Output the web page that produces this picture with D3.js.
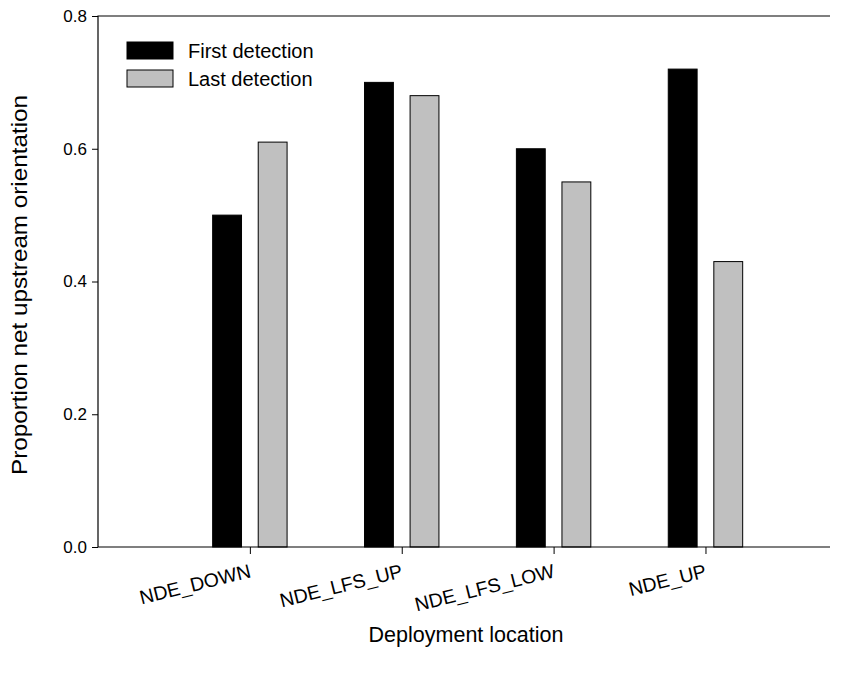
<!DOCTYPE html>
<html>
<head>
<meta charset="utf-8">
<script src="https://cdn.jsdelivr.net/npm/d3@7"></script>
<style>
body { margin: 0; background: #fff; }
text { font-family: Arial, "Liberation Sans", sans-serif; fill: #000; }
</style>
</head>
<body>
<svg id="chart" width="846" height="675"></svg>
<script>
// data
var locations = ["NDE_DOWN", "NDE_LFS_UP", "NDE_LFS_LOW", "NDE_UP"];
var firstDetection = [0.50, 0.70, 0.60, 0.72];
var lastDetection = [0.61, 0.68, 0.55, 0.43];
var seriesNames = ["First detection", "Last detection"];
var seriesColors = ["#000000", "#c0c0c0"];
var yTicks = [0, 0.2, 0.4, 0.6, 0.8];

var svg = d3.select("#chart");
var plotLeft = 98, plotRight = 830, plotTop = 16, plotBottom = 547;

// categories sit at 1..4 on a linear axis
var xScale = d3.scaleLinear().domain([0, 4.82]).range([plotLeft, plotRight]);
var yScale = d3.scaleLinear().domain([0, 0.8]).range([plotBottom, plotTop]);

var barW = xScale(0.19) - xScale(0);
var offset = xScale(0.15) - xScale(0);

var series = [firstDetection, lastDetection];

series.forEach(function(values, s)
{
    svg.append("g").selectAll("rect").data(values).enter().append("rect")
        .attr("x", function(d, i){ return xScale(i + 1) + (s == 0 ? -offset : offset) - barW / 2; })
        .attr("y", function(d){ return yScale(d); })
        .attr("width", barW)
        .attr("height", function(d){ return yScale(0) - yScale(d); })
        .attr("fill", seriesColors[s])
        .attr("stroke", "#000")
        .attr("stroke-width", 1);
});

// y axis
var yAxis = d3.axisLeft(yScale).tickValues(yTicks).tickFormat(d3.format(".1f")).tickSize(6).tickPadding(5);
var gy = svg.append("g").attr("transform", "translate(" + plotLeft + ",0)").call(yAxis);
gy.select(".domain").remove();
gy.selectAll("text").style("font-size", "17px").style("font-family", "Arial, 'Liberation Sans', sans-serif");

// x axis
var xAxis = d3.axisBottom(xScale).tickValues([1, 2, 3, 4]).tickFormat("").tickSize(7);
var gx = svg.append("g").attr("transform", "translate(0," + plotBottom + ")").call(xAxis);
gx.select(".domain").remove();

svg.selectAll(".tick line").attr("stroke", "#000");

// frame: left, top, bottom (no right side)
svg.append("path")
    .attr("d", "M" + plotRight + "," + plotTop + "H" + plotLeft + "V" + plotBottom + "H" + plotRight)
    .attr("fill", "none")
    .attr("stroke", "#000")
    .attr("stroke-width", 1.2);

// rotated category labels
svg.append("g").selectAll("text").data(locations).enter().append("text")
    .attr("transform", function(d, i){ return "translate(" + (xScale(i + 1) + 2) + "," + (plotBottom + 30) + ") rotate(-14)"; })
    .attr("text-anchor", "end")
    .style("font-size", "19.5px")
    .text(function(d){ return d; });

// axis titles
svg.append("text")
    .attr("transform", "translate(27," + 285 + ") rotate(-90)")
    .attr("text-anchor", "middle")
    .attr("textLength", 380)
    .attr("lengthAdjust", "spacingAndGlyphs")
    .style("font-size", "22px")
    .text("Proportion net upstream orientation");

svg.append("text")
    .attr("x", 466)
    .attr("y", 642)
    .attr("text-anchor", "middle")
    .style("font-size", "21.5px")
    .text("Deployment location");

// legend
var legend = svg.append("g").selectAll("g").data(seriesNames).enter().append("g")
    .attr("transform", function(d, i){ return "translate(127," + (42 + i * 28) + ")"; });
legend.append("rect")
    .attr("width", 46).attr("height", 17)
    .attr("fill", function(d, i){ return seriesColors[i]; })
    .attr("stroke", "#000").attr("stroke-width", 1);
legend.append("text")
    .attr("x", 61).attr("y", 16)
    .style("font-size", "20px")
    .text(function(d){ return d; });
</script>
</body>
</html>
